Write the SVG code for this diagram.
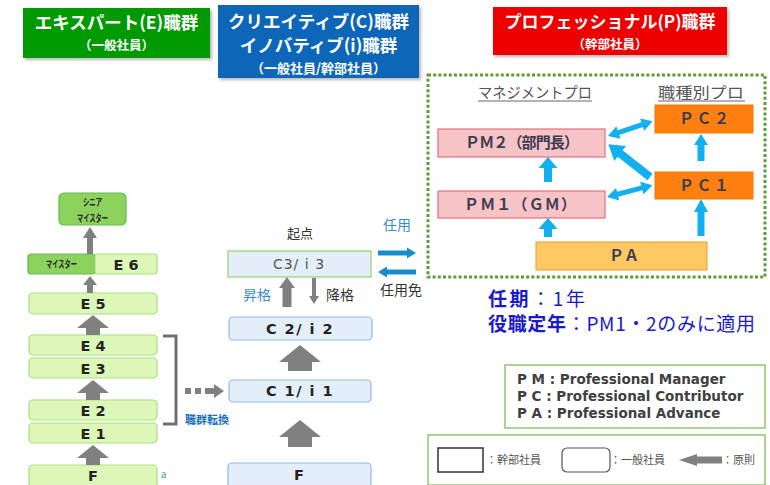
<svg xmlns="http://www.w3.org/2000/svg" width="770" height="485" viewBox="0 0 770 485">
<defs>
<filter id="sh" x="-10%" y="-10%" width="130%" height="140%"><feDropShadow dx="2" dy="2" stdDeviation="1.5" flood-color="#888" flood-opacity="0.6"/></filter>
<style>
.jp{font-family:"Noto Sans CJK JP","Noto Sans",sans-serif}
.hd{font-family:"Noto Sans CJK JP",sans-serif;font-weight:bold;fill:#fff;text-anchor:middle}
.eb{fill:#dcf7b8;stroke:#a8e07e;stroke-width:1.2}
.mb{fill:#8ed25e;stroke:#5cbf4a;stroke-width:1.2}
.cb{fill:#e4eef9;stroke:#8db9e6;stroke-width:1.2}
.lbl{font-family:"DejaVu Sans",sans-serif;font-weight:bold;font-size:14.5px;fill:#222;text-anchor:middle}
.gar{fill:#808080}
.bar{fill:#12b0ee}
.pm{fill:#f6c3c7;stroke:#e8707a;stroke-width:1.2}
.pc{fill:#ff8010;stroke:#f07800;stroke-width:1}
.pt{font-family:"Noto Sans CJK JP",sans-serif;font-weight:bold;font-size:15px;fill:#3d3d50;text-anchor:middle}
.lg{font-family:"DejaVu Sans","Noto Sans CJK JP",sans-serif;font-weight:bold;font-size:13.5px;fill:#404040}
.sm{font-family:"Noto Sans CJK JP",sans-serif;font-size:11px;fill:#555}
</style>
</defs>
<rect width="770" height="485" fill="#fff"/>

<!-- headers -->
<g id="hdr-e">
<rect x="23" y="8" width="187" height="50" fill="#009a00" filter="url(#sh)"/>
<text class="hd" x="116.5" y="29" font-size="17.5">エキスパート(E)職群</text>
<text class="hd" x="116.5" y="50" font-size="12.5">（一般社員）</text>
</g>
<g id="hdr-c">
<rect x="218" y="5" width="201" height="73" fill="#0a66b8" filter="url(#sh)"/>
<text class="hd" x="318.5" y="28" font-size="17.5">クリエイティブ(C)職群</text>
<text class="hd" x="318.5" y="52" font-size="17.5">イノバティブ(i)職群</text>
<text class="hd" x="318.5" y="73" font-size="13">（一般社員/幹部社員）</text>
</g>
<g id="hdr-p">
<rect x="493" y="7" width="234" height="48" fill="#ee0000" filter="url(#sh)"/>
<text class="hd" x="610" y="28" font-size="17">プロフェッショナル(P)職群</text>
<text class="hd" x="610" y="49" font-size="12.5">（幹部社員）</text>
</g>

<!-- E column -->
<g id="e-senior">
<rect class="mb" x="59" y="193" width="67" height="32" rx="5"/>
<text class="jp" x="92.5" y="206" font-size="10" font-weight="bold" fill="#222" text-anchor="middle" textLength="19" lengthAdjust="spacingAndGlyphs">シニア</text>
<text class="jp" x="92.5" y="222" font-size="10" font-weight="bold" fill="#222" text-anchor="middle" textLength="31" lengthAdjust="spacingAndGlyphs">マイスター</text>
</g>
<g id="e-meister">
<rect class="mb" x="28" y="254" width="67" height="20" rx="3"/>
<text class="jp" x="61.5" y="268" font-size="10" font-weight="bold" fill="#222" text-anchor="middle" textLength="31" lengthAdjust="spacingAndGlyphs">マイスター</text>
</g>
<g id="e6"><rect class="eb" x="95" y="254" width="62" height="20" rx="3"/><text class="lbl" x="126" y="269.5">E 6</text></g>
<g id="e5"><rect class="eb" x="29" y="293" width="128" height="21" rx="4"/><text class="lbl" x="93" y="309">E 5</text></g>
<g id="e4"><rect class="eb" x="29" y="335" width="128" height="20" rx="4"/><text class="lbl" x="93" y="350.5">E 4</text></g>
<g id="e3"><rect class="eb" x="29" y="358" width="128" height="20" rx="4"/><text class="lbl" x="93" y="373.5">E 3</text></g>
<g id="e2"><rect class="eb" x="29" y="400" width="128" height="20" rx="4"/><text class="lbl" x="93" y="415.5">E 2</text></g>
<g id="e1"><rect class="eb" x="29" y="423" width="128" height="20" rx="4"/><text class="lbl" x="93" y="438.5">E 1</text></g>
<g id="ef"><rect class="eb" x="29" y="465" width="128" height="26" rx="4"/><text class="lbl" x="93" y="481">F</text></g>
<text x="161" y="478" font-family="Liberation Serif,serif" font-size="12" fill="#3a9a8a">a</text>

<!-- C column -->
<text class="jp" x="300" y="238" font-size="13" fill="#333" text-anchor="middle">起点</text>
<g id="c3"><rect x="228" y="251" width="143" height="26" fill="#e4eef9" stroke="#92d070" stroke-width="1.2"/><text x="299" y="269" font-family="DejaVu Sans,sans-serif" font-size="14" fill="#555" text-anchor="middle" letter-spacing="1">C3/ i 3</text></g>
<g id="c2"><rect class="cb" x="229" y="317" width="143" height="23" rx="4"/><text class="lbl" x="300" y="334" fill="#333" letter-spacing="1.5">C 2/ i 2</text></g>
<g id="c1"><rect class="cb" x="229" y="380" width="142" height="22" rx="4"/><text class="lbl" x="300" y="396" letter-spacing="1.5">C 1/ i 1</text></g>
<g id="cf"><rect class="cb" x="228" y="463" width="143" height="28" rx="4"/><text class="lbl" x="299" y="480">F</text></g>
<text class="jp" x="243" y="300" font-size="14" fill="#3a8ad0">昇格</text>
<text class="jp" x="326" y="300" font-size="14" fill="#333">降格</text>
<text class="jp" x="383" y="230" font-size="14" fill="#3a8ad0">任用</text>
<text class="jp" x="380" y="295" font-size="14" fill="#333">任用免</text>
<text class="jp" x="185" y="424" font-size="11" font-weight="bold" fill="#1a70c0">職群転換</text>

<!-- P area -->
<g id="p-area">
<rect x="428" y="75" width="337" height="202" fill="none" stroke="#5a9e3a" stroke-width="3" stroke-dasharray="3 2.2"/>
<text class="jp" x="478" y="98" font-size="15" fill="#555" textLength="114" lengthAdjust="spacingAndGlyphs">マネジメントプロ</text>
<line x1="478" y1="101" x2="592" y2="101" stroke="#666" stroke-width="1"/>
<text class="jp" x="658" y="98" font-size="15" fill="#555" textLength="86" lengthAdjust="spacingAndGlyphs">職種別プロ</text>
<line x1="658" y1="101" x2="745" y2="101" stroke="#666" stroke-width="1"/>
</g>
<g id="pm2"><rect class="pm" x="438" y="129" width="167" height="28"/><text class="pt" x="522" y="148" textLength="114">ＰＭ２（部門長）</text></g>
<g id="pm1"><rect class="pm" x="438" y="191" width="167" height="27"/><text class="pt" x="520" y="210" textLength="112">ＰＭ１（ＧＭ）</text></g>
<g id="pc2"><rect class="pc" x="655" y="105" width="98" height="28"/><text class="pt" x="704" y="124" textLength="50">ＰＣ２</text></g>
<g id="pc1"><rect class="pc" x="655" y="172" width="98" height="27"/><text class="pt" x="704" y="191" textLength="50">ＰＣ１</text></g>
<g id="pa"><rect x="536" y="242" width="171" height="28" fill="#ffc865" stroke="#e8a030" stroke-width="1"/><text class="pt" x="624" y="261" textLength="30">ＰＡ</text></g>

<text class="jp" x="488" y="306" font-size="19" fill="#1a1acc" textLength="97" lengthAdjust="spacing"><tspan font-weight="bold">任期</tspan>：1年</text>
<text class="jp" x="488" y="331" font-size="19" fill="#1a1acc" textLength="267" lengthAdjust="spacing"><tspan font-weight="bold">役職定年</tspan>：PM1・2のみに適用</text>

<!-- legends -->
<g id="legend1">
<rect x="505" y="365" width="260" height="63" fill="#fff" stroke="#8cc870" stroke-width="1.5"/>
<text class="lg" x="517" y="384">P M : Professional Manager</text>
<text class="lg" x="517" y="401">P C : Professional Contributor</text>
<text class="lg" x="517" y="418">P A : Professional Advance</text>
</g>
<g id="legend2">
<rect x="428" y="435" width="337" height="50" fill="#fff" stroke="#8cc870" stroke-width="1.5"/>
<rect x="438" y="448" width="45" height="24" fill="#fff" stroke="#333" stroke-width="1.5"/>
<text class="sm" x="486" y="464">：幹部社員</text>
<rect x="562" y="448" width="48" height="24" rx="5" fill="#fff" stroke="#555" stroke-width="1.2"/>
<text class="sm" x="610" y="464">：一般社員</text>
<path class="gar" d="M679,460 L697,454 L697,456.5 L722,456.5 L722,463.5 L697,463.5 L697,466 Z"/>
<text class="sm" x="722" y="464">：原則</text>
</g>

<!-- connectors -->
<g id="connectors">
<path class="gar" d="M90,227 L97,238 L93,238 L93,254 L87,254 L87,238 L83,238 Z"/>
<path class="gar" d="M90,276 L97,285 L93,285 L93,293 L87,293 L87,285 L83,285 Z"/>
<path class="gar" d="M93,315 L109,328 L100,328 L100,335 L86,335 L86,328 L77,328 Z"/>
<path class="gar" d="M93,380 L109,393 L100,393 L100,400 L86,400 L86,393 L77,393 Z"/>
<path class="gar" d="M93,445 L109,458 L100,458 L100,465 L86,465 L86,458 L77,458 Z"/>
<path d="M163,336 L176,336 L176,424 L163,424" fill="none" stroke="#707070" stroke-width="3"/>
<rect class="gar" x="185" y="388" width="6" height="6"/>
<rect class="gar" x="195" y="388" width="6" height="6"/>
<path class="gar" d="M205,388 L214,388 L214,384 L224,391 L214,398 L214,394 L205,394 Z"/>
<path class="gar" d="M300,345 L321,362 L312,362 L312,371 L288,371 L288,362 L279,362 Z"/>
<path class="gar" d="M300,420 L321,437 L312,437 L312,447 L288,447 L288,437 L279,437 Z"/>
<path class="gar" d="M287,277 L295,288 L291.5,288 L291.5,307 L282.5,307 L282.5,288 L279,288 Z"/>
<path class="gar" d="M314,304 L309,296 L312,296 L312,278 L316,278 L316,296 L319,296 Z"/>
<path fill="#1a8ccc" d="M378,250.5 L407,250.5 L407,247.5 L416,253 L407,258.5 L407,255.5 L378,255.5 Z"/>
<path fill="#1a8ccc" d="M416,269.5 L387,269.5 L387,266.5 L378,272 L387,277.5 L387,274.5 L416,274.5 Z"/>
<path class="bar" d="M548,157 L557.5,168 L552,168 L552,182 L544,182 L544,168 L538.5,168 Z"/>
<path class="bar" d="M548,218 L557.5,229 L552,229 L552,237 L544,237 L544,229 L538.5,229 Z"/>
<path class="bar" d="M701,199 L708,212 L704.5,212 L704.5,236 L697.5,236 L697.5,212 L694,212 Z"/>
<path class="bar" d="M701,134 L708,145 L704.5,145 L704.5,161 L697.5,161 L697.5,145 L694,145 Z"/>
<path class="bar" transform="translate(608,136) rotate(-18.4)" d="M0,0 L11,-6.5 L11,-2.5 L36,-2.5 L36,-6.5 L47,0 L36,6.5 L36,2.5 L11,2.5 L11,6.5 Z"/>
<path class="bar" transform="translate(607,197) rotate(-14.6)" d="M0,0 L11,-6.5 L11,-2.5 L36,-2.5 L36,-6.5 L47,0 L36,6.5 L36,2.5 L11,2.5 L11,6.5 Z"/>
<path class="bar" transform="translate(650,177) rotate(-141.8)" d="M0,-4 L38,-4 L38,-9.5 L53,0 L38,9.5 L38,4 L0,4 Z"/>
</g>
</svg>
